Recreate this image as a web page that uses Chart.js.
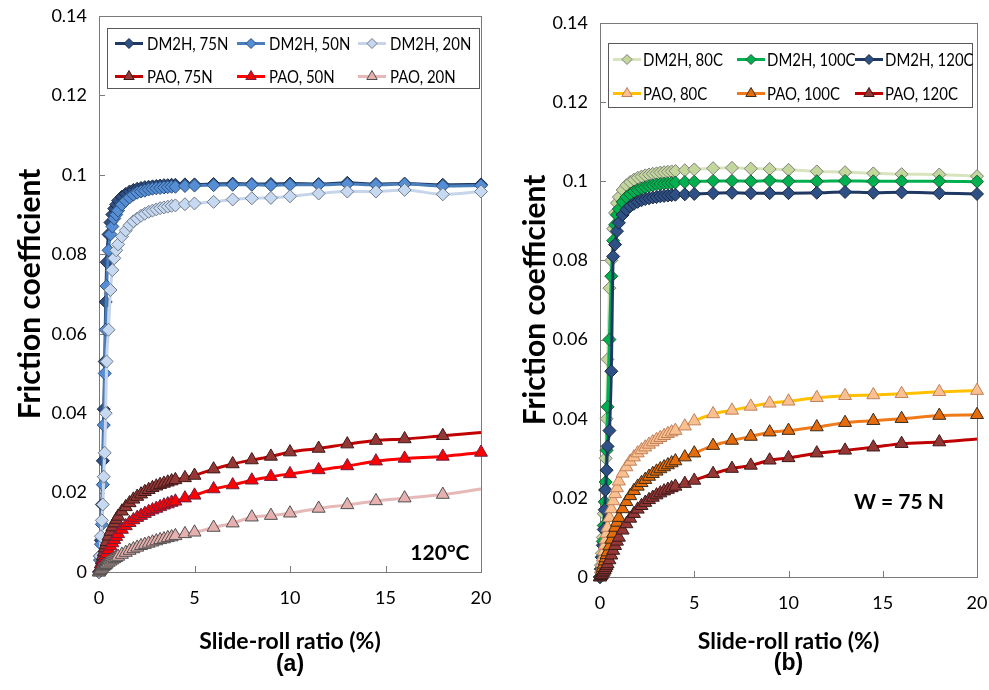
<!DOCTYPE html>
<html>
<head>
<meta charset="utf-8">
<script src="https://cdn.jsdelivr.net/npm/chart.js@4.4.1/dist/chart.umd.min.js"></script>
<style>
  html, body { margin: 0; padding: 0; background: #fff; }
  #wrap { position: relative; width: 989px; height: 690px; overflow: hidden; }
  #panelA { position: absolute; left: 0; top: 0; }
  #panelB { position: absolute; left: 494px; top: 0; }
</style>
</head>
<body>
<div id="wrap">
  <canvas id="panelA" width="494" height="690"></canvas>
  <canvas id="panelB" width="495" height="690"></canvas>
</div>
<script>
// slide-roll ratio (%) shared by every series
const slideRoll = [0, 0.05, 0.1, 0.15, 0.2, 0.25, 0.3, 0.35, 0.4,
  0.5, 0.6, 0.7, 0.8, 0.9, 1,
  1.2, 1.4, 1.6, 1.8, 2, 2.2, 2.4, 2.6, 2.8, 3, 3.2, 3.4, 3.6, 3.8, 4,
  4.5, 5, 6, 7, 8, 9, 10, 11.5, 13, 14.5, 16, 18, 20];

const xTickLabels = ['0', '5', '10', '15', '20'];
const yTickLabels = ['0', '0.02', '0.04', '0.06', '0.08', '0.1', '0.12', '0.14'];

// (a) 120°C, different loads
const dm2h75N = [0, 0.004, 0.008, 0.017, 0.028, 0.041, 0.053, 0.068, 0.078,
  0.085, 0.088, 0.090, 0.0915, 0.0925, 0.0935,
  0.0945, 0.0952, 0.0958, 0.0962, 0.0965, 0.0967, 0.0969, 0.097, 0.0971, 0.0972, 0.0973, 0.0974, 0.0974, 0.0975, 0.0975,
  0.0976, 0.0976, 0.0977, 0.0978, 0.0977, 0.0977, 0.0978, 0.0977, 0.098, 0.0977, 0.0978, 0.0975, 0.0976];
const dm2h50N = [0, 0.003, 0.007, 0.012, 0.022, 0.037, 0.050, 0.061, 0.072,
  0.081, 0.085, 0.087, 0.089, 0.090, 0.091,
  0.0925, 0.0935, 0.0943, 0.095, 0.0955, 0.0958, 0.096, 0.0963, 0.0965, 0.0966, 0.0967, 0.0968, 0.0969, 0.097, 0.097,
  0.0972, 0.0973, 0.0974, 0.0975, 0.0975, 0.0974, 0.0975, 0.0975, 0.0977, 0.0975, 0.0977, 0.0972, 0.0973];
const dm2h20N = [0, 0.004, 0.009, 0.013, 0.017, 0.024, 0.030, 0.040, 0.053,
  0.061, 0.071, 0.076, 0.079, 0.081, 0.0825,
  0.0845, 0.086, 0.0873, 0.0883, 0.089, 0.0897, 0.0902, 0.0907, 0.091, 0.0913, 0.0916, 0.0918, 0.092, 0.0922, 0.0923,
  0.0926, 0.0928, 0.0932, 0.0938, 0.0941, 0.0942, 0.0946, 0.0953, 0.0958, 0.0958, 0.0962, 0.0951, 0.0958];
const pao75N = [0, 0.001, 0.002, 0.003, 0.004, 0.005, 0.006, 0.0068, 0.0076,
  0.009, 0.0102, 0.0113, 0.0123, 0.0132, 0.014,
  0.0153, 0.0164, 0.0174, 0.0183, 0.019, 0.0196, 0.0202, 0.0207, 0.0212, 0.0216, 0.022, 0.0223, 0.0226, 0.0229, 0.0232,
  0.0237, 0.0243, 0.0259, 0.0272, 0.0282, 0.0291, 0.0302, 0.0311, 0.0322, 0.0331, 0.0335, 0.0343, 0.0351];
const pao50N = [0, 0.0006, 0.0012, 0.0018, 0.0024, 0.003, 0.0036, 0.0041, 0.0046,
  0.0056, 0.0065, 0.0073, 0.0081, 0.0089, 0.0096,
  0.0107, 0.0116, 0.0124, 0.0131, 0.0137, 0.0142, 0.0147, 0.0152, 0.0156, 0.016, 0.0164, 0.0168, 0.0171, 0.0175, 0.0178,
  0.0186, 0.0193, 0.0209, 0.0219, 0.0231, 0.024, 0.0247, 0.0257, 0.0267, 0.0279, 0.0286, 0.0291, 0.0301];
const pao20N = [0, 0.0003, 0.0006, 0.0009, 0.0012, 0.0014, 0.0016, 0.0018, 0.002,
  0.0024, 0.0027, 0.003, 0.0033, 0.0036, 0.0039,
  0.0044, 0.0049, 0.0054, 0.0058, 0.0062, 0.0066, 0.0069, 0.0072, 0.0075, 0.0078, 0.0081, 0.0083, 0.0086, 0.0088, 0.0091,
  0.0096, 0.01, 0.0112, 0.0123, 0.0138, 0.0142, 0.0148, 0.016, 0.0169, 0.0179, 0.0186, 0.0195, 0.0209];

// (b) W = 75 N, different temperatures
const dm2h80C = [0, 0.003, 0.006, 0.01, 0.016, 0.022, 0.03, 0.04, 0.055,
  0.073, 0.08, 0.088, 0.092, 0.0945, 0.096,
  0.0978, 0.099, 0.0998, 0.1004, 0.1009, 0.1012, 0.1015, 0.1017, 0.1019, 0.102, 0.1022, 0.1023, 0.1024, 0.1025, 0.1026,
  0.1028, 0.103, 0.1033, 0.1034, 0.1032, 0.1031, 0.1029, 0.1025, 0.1023, 0.102, 0.1018, 0.1017, 0.1013];
const dm2h100C = [0, 0.002, 0.005, 0.009, 0.013, 0.019, 0.024, 0.032, 0.043,
  0.060, 0.076, 0.085, 0.089, 0.0915, 0.093,
  0.0948, 0.096, 0.0968, 0.0974, 0.0978, 0.0982, 0.0985, 0.0988, 0.099, 0.0992, 0.0993, 0.0994, 0.0995, 0.0996, 0.0997,
  0.0998, 0.0999, 0.1001, 0.1001, 0.1, 0.1002, 0.1, 0.1, 0.1001, 0.1, 0.1, 0.1, 0.0999];
const dm2h120C = [0, 0.002, 0.005, 0.008, 0.012, 0.017, 0.022, 0.027, 0.033,
  0.037, 0.052, 0.081, 0.084, 0.0874, 0.0895,
  0.0915, 0.0928, 0.0937, 0.0943, 0.0948, 0.0952, 0.0955, 0.0957, 0.0959, 0.096, 0.0962, 0.0963, 0.0964, 0.0965, 0.0966,
  0.0967, 0.0968, 0.097, 0.0971, 0.097, 0.097, 0.097, 0.0971, 0.0973, 0.0971, 0.0972, 0.097, 0.0968];
const pao80C = [0, 0.002, 0.0035, 0.005, 0.0065, 0.008, 0.0095, 0.011, 0.0125,
  0.015, 0.0172, 0.0192, 0.021, 0.0225, 0.0242,
  0.0262, 0.0278, 0.0292, 0.0303, 0.0313, 0.0321, 0.0328, 0.0335, 0.0341, 0.0347, 0.0352, 0.0357, 0.0362, 0.0366, 0.037,
  0.0381, 0.0394, 0.0412, 0.0421, 0.0431, 0.0439, 0.0444, 0.0453, 0.0458, 0.046, 0.0463, 0.0468, 0.0471];
const pao100C = [0, 0.0008, 0.0016, 0.0024, 0.0032, 0.004, 0.0048, 0.0056, 0.0063,
  0.0078, 0.0095, 0.011, 0.0125, 0.0138, 0.015,
  0.0172, 0.019, 0.0205, 0.0218, 0.0229, 0.0238, 0.0246, 0.0254, 0.0261, 0.0267, 0.0273, 0.0278, 0.0283, 0.0288, 0.0293,
  0.0303, 0.0313, 0.0332, 0.0345, 0.0355, 0.0366, 0.037, 0.0379, 0.039, 0.0395, 0.04, 0.0408, 0.041];
const pao120C = [0, 0.0003, 0.0006, 0.001, 0.0014, 0.0018, 0.0023, 0.0028, 0.0033,
  0.0043, 0.0055, 0.0067, 0.0079, 0.009, 0.01,
  0.0118, 0.0134, 0.0148, 0.016, 0.0171, 0.018, 0.0188, 0.0195, 0.0201, 0.0207, 0.0212, 0.0217, 0.0221, 0.0225, 0.0229,
  0.0236, 0.0244, 0.0261, 0.0274, 0.0282, 0.0295, 0.0301, 0.0313, 0.032, 0.0328, 0.0337, 0.0341, 0.0349];

const FONT = 'Lato';

function series(label, values, st, idx) {
  return {
    label: label,
    data: values.map((v, i) => ({ x: slideRoll[i], y: v })),
    borderColor: st.line,
    borderWidth: 3,
    pointStyle: st.shape,
    pointRadius: c => (st.noEnd && c.dataIndex === values.length - 1) ? 0 : st.size,
    pointHoverRadius: st.size,
    pointBackgroundColor: st.fill,
    pointBorderColor: st.edge,
    pointBorderWidth: 1,
    cubicInterpolationMode: 'monotone',
    clip: false,
    order: 10 - idx
  };
}

function drawMarker(ctx, shape, x, y, r, fill, edge) {
  ctx.beginPath();
  if (shape === 'triangle') {
    const c = Math.cos(Math.PI / 6) * r;
    ctx.moveTo(x, y - r);
    ctx.lineTo(x + c, y + r / 2);
    ctx.lineTo(x - c, y + r / 2);
  } else {
    ctx.moveTo(x, y - r);
    ctx.lineTo(x + r, y);
    ctx.lineTo(x, y + r);
    ctx.lineTo(x - r, y);
  }
  ctx.closePath();
  ctx.fillStyle = fill;
  ctx.fill();
  ctx.lineWidth = 1;
  ctx.strokeStyle = edge;
  ctx.stroke();
}

// box round the plot area + inward tick marks
const framePlugin = {
  id: 'frame',
  beforeDatasetsDraw(chart) {
    const { ctx, chartArea: a, scales } = chart;
    ctx.save();
    ctx.strokeStyle = '#7a7a7a';
    ctx.lineWidth = 1;
    ctx.strokeRect(Math.round(a.left) + 0.5, Math.round(a.top) + 0.5, Math.round(a.right - a.left), Math.round(a.bottom - a.top));
    ctx.beginPath();
    scales.y.ticks.forEach(t => {
      const py = Math.round(scales.y.getPixelForValue(t.value)) + 0.5;
      ctx.moveTo(a.left, py);
      ctx.lineTo(a.left + 6, py);
    });
    scales.x.ticks.forEach(t => {
      const px = Math.round(scales.x.getPixelForValue(t.value)) + 0.5;
      ctx.moveTo(px, a.bottom);
      ctx.lineTo(px, a.bottom - 6);
    });
    ctx.stroke();
    ctx.restore();
  }
};

// Excel style legend: 3 columns x 2 rows inside a box
const legendPlugin = {
  id: 'boxLegend',
  afterDatasetsDraw(chart, args, opts) {
    const ctx = chart.ctx;
    const [x0, y0, x1, y1] = opts.box;
    ctx.save();
    ctx.fillStyle = '#fff';
    ctx.fillRect(x0, y0, x1 - x0, y1 - y0);
    ctx.strokeStyle = '#595959';
    ctx.lineWidth = 1;
    ctx.strokeRect(x0 + 0.5, y0 + 0.5, x1 - x0, y1 - y0);
    chart.data.datasets.forEach((ds, i) => {
      const lx = opts.cols[i % 3];
      const ly = opts.rows[Math.floor(i / 3)];
      ctx.strokeStyle = ds.borderColor;
      ctx.lineWidth = 3;
      ctx.beginPath();
      ctx.moveTo(lx, ly);
      ctx.lineTo(lx + opts.lineLen, ly);
      ctx.stroke();
      drawMarker(ctx, ds.pointStyle, lx + opts.lineLen / 2, ly, ds.pointStyle === 'triangle' ? 6 : 5,
        ds.pointBackgroundColor, ds.pointBorderColor);
      ctx.fillStyle = '#000';
      ctx.font = '17px ' + FONT;
      ctx.textBaseline = 'middle';
      const w = ctx.measureText(ds.label).width;
      ctx.fillText(ds.label, lx + opts.lineLen + opts.gap, ly + 1, w * 0.88);
    });
    ctx.restore();
  }
};

// in-plot note and the (a)/(b) tag under the axis title
const notePlugin = {
  id: 'note',
  afterDatasetsDraw(chart, args, opts) {
    const { ctx, scales, chartArea: a } = chart;
    ctx.save();
    ctx.fillStyle = '#000';
    ctx.textAlign = 'center';
    ctx.textBaseline = 'middle';
    ctx.font = 'bold 21px ' + FONT;
    ctx.fillText(opts.text, scales.x.getPixelForValue(opts.x), scales.y.getPixelForValue(opts.y));
    ctx.font = 'bold 23px "Liberation Sans"';
    ctx.fillText(opts.tag, (a.left + a.right) / 2, opts.tagY);
    ctx.restore();
  }
};

function makePanel(id, sets, lay, note) {
  const tickFont = { family: FONT, size: 18 };
  return new Chart(document.getElementById(id), {
    type: 'line',
    data: { datasets: sets },
    options: {
      responsive: false,
      animation: false,
      devicePixelRatio: 1,
      events: [],
      layout: { padding: { left: 0, top: lay.top, right: lay.right, bottom: 0 } },
      plugins: {
        legend: { display: false },
        tooltip: { enabled: false },
        boxLegend: lay.legend,
        note: note
      },
      scales: {
        x: {
          type: 'linear', min: 0, max: 20,
          ticks: { stepSize: 5, font: tickFont, color: '#000', padding: 0, maxRotation: 0,
            callback: (v, i) => xTickLabels[i] },
          grid: { display: false, drawTicks: true, tickLength: 15 },
          border: { display: false },
          title: { display: true, text: 'Slide-roll ratio (%)', color: '#000',
            font: { family: FONT, weight: 'bold', size: 23 },
            padding: { top: 0, bottom: 35 } },
          afterFit: s => { s.height = lay.xHeight; }
        },
        y: {
          min: 0, max: 0.14,
          ticks: { stepSize: 0.02, font: tickFont, color: '#000', padding: 0,
            callback: (v, i) => yTickLabels[i] },
          grid: { display: false, drawTicks: true, tickLength: 12 },
          border: { display: false },
          title: { display: true, text: 'Friction coefficient', color: '#000',
            font: { family: FONT, weight: 'bold', size: 30 },
            padding: { top: lay.yTitlePad, bottom: 0 } },
          afterFit: s => { s.width = lay.yWidth; }
        }
      }
    },
    plugins: [framePlugin, legendPlugin, notePlugin]
  });
}

function draw() {
  const setsA = [
    series('DM2H, 75N', dm2h75N, { line: '#1f3864', fill: '#2e5085', edge: '#1a2840', shape: 'rectRot', size: 6.5 }, 0),
    series('DM2H, 50N', dm2h50N, { line: '#4a7ebb', fill: '#558ed5', edge: '#2c4f7c', shape: 'rectRot', size: 6.5 }, 1),
    series('DM2H, 20N', dm2h20N, { line: '#c6d5ea', fill: '#c6d9f1', edge: '#6f7b8a', shape: 'rectRot', size: 6.5 }, 2),
    series('PAO, 75N', pao75N, { line: '#c00000', fill: '#953735', edge: '#3b1a1a', shape: 'triangle', size: 7.5, noEnd: true }, 3),
    series('PAO, 50N', pao50N, { line: '#ff0000', fill: '#ff0000', edge: '#6b2040', shape: 'triangle', size: 7.5 }, 4),
    series('PAO, 20N', pao20N, { line: '#e6b9b8', fill: '#e6b0ae', edge: '#505050', shape: 'triangle', size: 7.5, noEnd: true }, 5)
  ];
  const setsB = [
    series('DM2H, 80C', dm2h80C, { line: '#d7e4bd', fill: '#c3d69b', edge: '#7f7f7f', shape: 'rectRot', size: 6.5 }, 0),
    series('DM2H, 100C', dm2h100C, { line: '#00b050', fill: '#00b050', edge: '#1e5a30', shape: 'rectRot', size: 6.5 }, 1),
    series('DM2H, 120C', dm2h120C, { line: '#1f3864', fill: '#2e5085', edge: '#1a2840', shape: 'rectRot', size: 6.5 }, 2),
    series('PAO, 80C', pao80C, { line: '#ffc000', fill: '#fac090', edge: '#c0805a', shape: 'triangle', size: 7.5 }, 3),
    series('PAO, 100C', pao100C, { line: '#f07a1a', fill: '#e46c0a', edge: '#3b2a1a', shape: 'triangle', size: 7.5 }, 4),
    series('PAO, 120C', pao120C, { line: '#c00000', fill: '#953735', edge: '#3b1a1a', shape: 'triangle', size: 7.5, noEnd: true }, 5)
  ];

  makePanel('panelA', setsA, {
    top: 16, right: 13, xHeight: 118, yWidth: 99, yTitlePad: 12,
    legend: { box: [107, 28, 479, 88], rows: [43.5, 76.5], cols: [115, 237, 358], lineLen: 28, gap: 4 }
  }, { text: '120°C', x: 17.85, y: 0.0048, tag: '(a)', tagY: 665 });

  makePanel('panelB', setsB, {
    top: 23, right: 12, xHeight: 113, yWidth: 106, yTitlePad: 23,
    legend: { box: [114, 43, 478, 107], rows: [59.5, 93.5], cols: [119, 243, 361], lineLen: 28, gap: 2 }
  }, { text: 'W = 75 N', x: 15.86, y: 0.019, tag: '(b)', tagY: 664 });
}

Promise.all([
  document.fonts.load('16px Lato'),
  document.fonts.load('bold 20px Lato'),
  document.fonts.load('bold 23px "Liberation Sans"')
]).then(draw, draw);
</script>
</body>
</html>
